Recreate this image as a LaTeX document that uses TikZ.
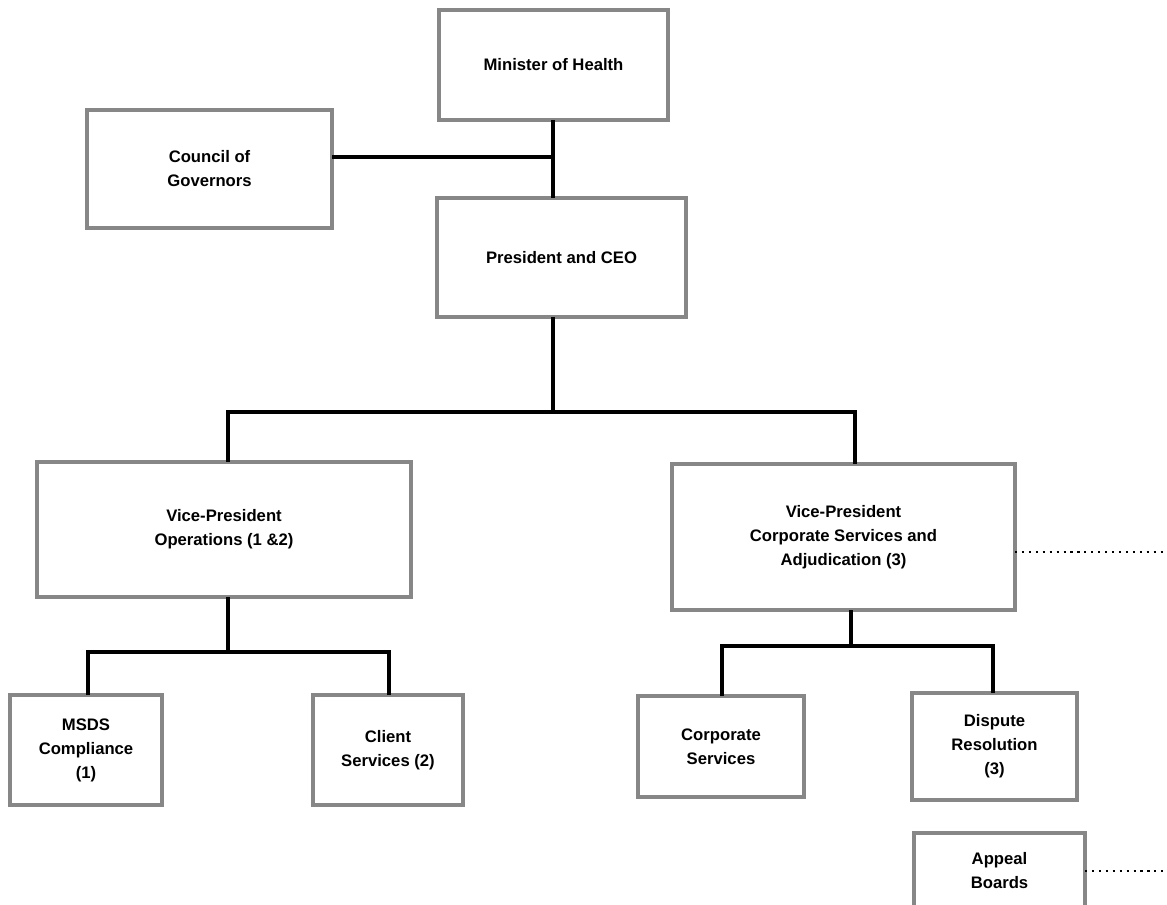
\documentclass[tikz,border=0pt]{standalone}
\usepackage{fontspec}
\setmainfont{Liberation Sans}
\begin{document}
\begin{tikzpicture}[x=0.75pt,y=-0.75pt,
  orgbox/.style={draw=black!47, line width=2.3pt, fill=white, inner sep=0pt, outer sep=0pt,
    align=center, font=\fontsize{12.5}{18}\selectfont\bfseries},
  link/.style={line width=2.4pt, black},
  dotlink/.style={line width=1.8pt, black, dash pattern=on 1.6pt off 3.6pt}]
\clip (0,0) rectangle (1167,904);
\fill[white] (0,0) rectangle (1167,904);
% boxes
\node[orgbox, minimum width=171.75pt, minimum height=82.5pt] (min) at (553.5,65) {Minister of Health};
\node[orgbox, minimum width=183.75pt, minimum height=88.5pt] (council) at (209.5,169) {Council of\\Governors};
\node[orgbox, minimum width=186.75pt, minimum height=89.25pt] (pres) at (561.5,257.5) {President and CEO};
\node[orgbox, minimum width=280.5pt, minimum height=101.25pt] (vpops) at (224,529.5) {Vice-President\\Operations (1 \&2)};
\node[orgbox, minimum width=257.25pt, minimum height=109.5pt] (vpcorp) at (843.5,537) {Vice-President\\Corporate Services and\\Adjudication (3)};
\node[orgbox, minimum width=114pt, minimum height=82.5pt] (msds) at (86,750) {MSDS\\Compliance\\(1)};
\node[orgbox, minimum width=112.5pt, minimum height=82.5pt] (client) at (388,750) {Client\\Services (2)};
\node[orgbox, minimum width=124.5pt, minimum height=75.75pt] (corpserv) at (721,746.5) {Corporate\\Services};
\node[orgbox, minimum width=123.75pt, minimum height=80.25pt] (dispute) at (994.5,746.5) {Dispute\\Resolution\\(3)};
\node[orgbox, minimum width=128.25pt, minimum height=57pt] (appeal) at (999.5,871) {Appeal\\Boards};
% junction coordinates
\coordinate (j0) at (553,157);
\coordinate (j1) at (553,412);
\coordinate (j1l) at (228,412);
\coordinate (j1r) at (855,412);
\coordinate (j2) at (228,652);
\coordinate (j2l) at (88,652);
\coordinate (j2r) at (389,652);
\coordinate (j3) at (851,646);
\coordinate (j3l) at (722,646);
\coordinate (j3r) at (993,646);
\coordinate (e1) at (1167,552);
\coordinate (e2) at (1167,871);
% connectors
\draw[link] (min.south -| j0) -- (j0 |- pres.north);
\draw[link] (j0 -| council.east) -- (j0);
\draw[link] (j1 |- pres.south) -- (j1);
\draw[link] (j1l |- vpops.north) -- (j1l) -- (j1r) -- (j1r |- vpcorp.north);
\draw[link] (j2 |- vpops.south) -- (j2);
\draw[link] (j2l |- msds.north) -- (j2l) -- (j2r) -- (j2r |- client.north);
\draw[link] (j3 |- vpcorp.south) -- (j3);
\draw[link] (j3l |- corpserv.north) -- (j3l) -- (j3r) -- (j3r |- dispute.north);
\draw[dotlink] (vpcorp.east |- e1) -- (e1);
\draw[dotlink] (appeal.east |- e2) -- (e2);
\end{tikzpicture}
\end{document}
